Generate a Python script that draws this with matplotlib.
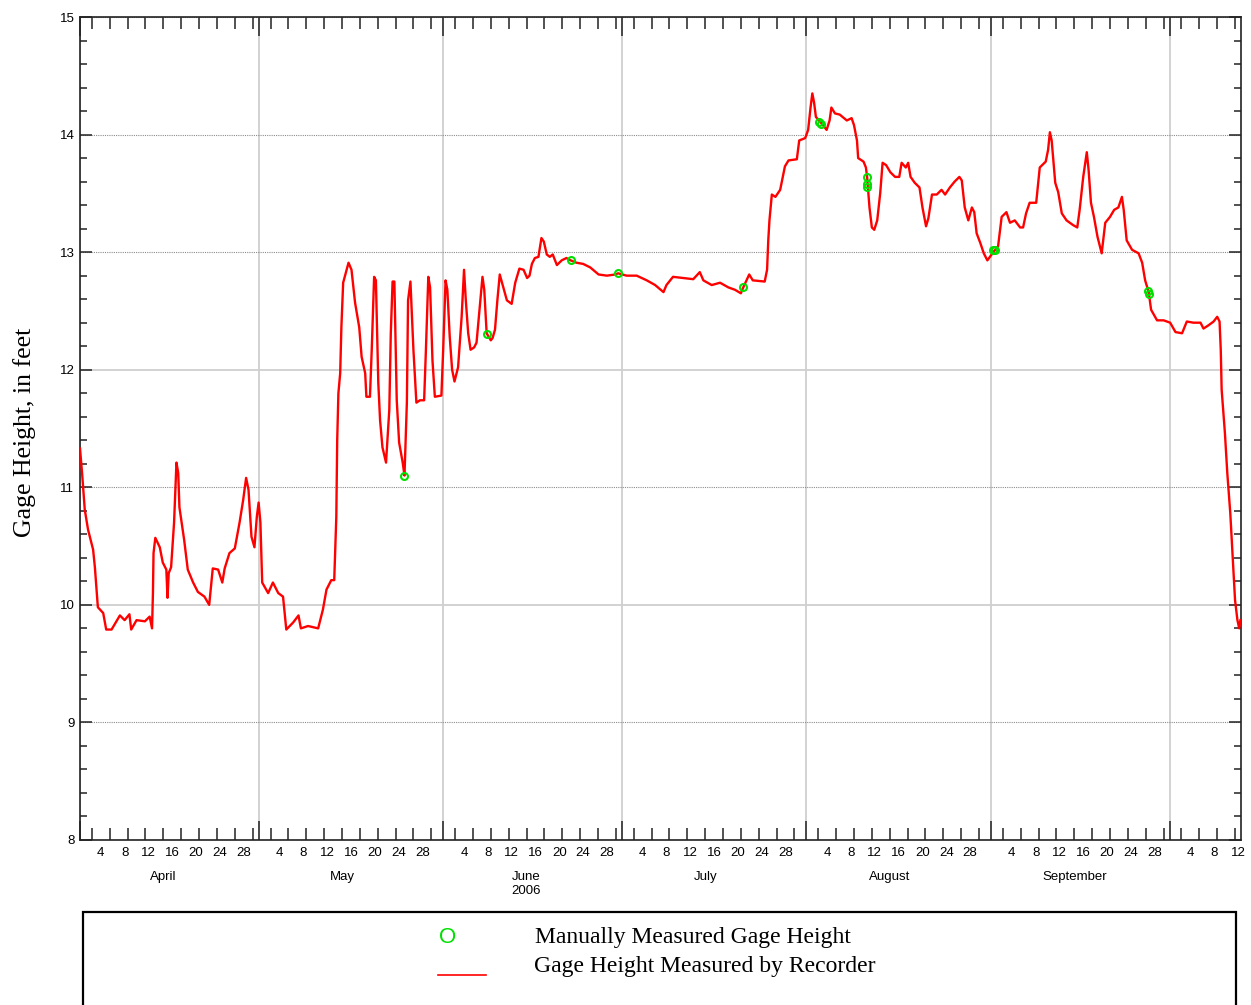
import numpy as np
import pandas as pd
import matplotlib
matplotlib.use('Agg')
import matplotlib.pyplot as plt
import matplotlib.dates as mdates
from matplotlib.patches import Rectangle
from matplotlib.lines import Line2D

plt.rcParams['font.family'] = ['Liberation Sans', 'DejaVu Sans']

# recorder trace: days since 2006-04-01 00:00 and gage height (ft)
day = [0.0, 0.35, 0.8, 1.35, 2.2, 2.5, 3.0, 3.9, 4.4, 5.3, 6.7, 7.5, 8.3, 8.6, 9.5, 10.9, 11.7, 12.1,
       12.25, 12.35, 12.65, 13.4, 13.9, 14.5, 14.7, 14.9, 15.3, 15.8, 16.2, 16.5, 16.7, 17.5, 18.1, 19.0,
       19.8, 20.9, 21.7, 22.3, 23.2, 23.9, 24.3, 25.1, 26.0, 26.8, 27.4, 27.9, 28.3, 28.8, 29.3, 29.7,
       30.0, 30.3, 30.6, 31.6, 32.4, 33.3, 34.1, 34.65, 35.8, 36.7, 37.1, 38.3, 40.0, 40.8, 41.4, 42.2,
       42.7, 43.05, 43.2, 43.4, 43.7, 43.9, 44.2, 45.1, 45.6, 46.2, 46.9, 47.3, 47.9, 48.1, 48.7, 49.0,
       49.4, 49.7, 50.1, 50.4, 50.8, 51.4, 51.95, 52.2, 52.5, 52.8, 53.2, 53.6, 54.2, 54.5, 54.9, 55.1,
       55.5, 56.0, 56.5, 57.1, 57.8, 58.1, 58.5, 58.8, 59.2, 59.6, 60.7, 61.0, 61.4, 61.7, 62.1, 62.5,
       62.9, 63.5, 64.1, 64.5, 64.8, 65.2, 65.6, 66.2, 66.6, 67.2, 67.6, 67.9, 68.3, 69.0, 69.3, 69.7,
       70.1, 70.5, 71.1, 71.7, 72.5, 73.1, 73.8, 74.5, 75.1, 75.5, 75.9, 76.4, 77.0, 77.5, 77.9, 78.4,
       78.9, 79.4, 80.1, 80.9, 81.7, 82.4, 83.4, 84.5, 85.7, 87.1, 88.5, 89.9, 90.4, 91.8, 93.5, 95.2,
       96.6, 98.0, 98.5, 99.6, 101.3, 103.0, 104.1, 104.7, 106.1, 107.5, 108.9, 110.0, 111.0, 111.4,
       112.4, 113.0, 115.0, 115.4, 115.6, 115.8, 116.2, 116.8, 117.6, 118.4, 119.0, 120.4, 120.8, 121.8,
       122.3, 122.7, 123.0, 123.3, 123.6, 124.3, 125.4, 125.9, 126.2, 126.8, 127.6, 128.8, 129.6, 130.0,
       130.5, 130.7, 131.6, 132.0, 132.2, 132.6, 133.0, 133.4, 133.9, 134.4, 134.8, 135.4, 136.1, 136.9,
       137.6, 138.0, 138.7, 139.1, 139.5, 140.2, 141.0, 141.5, 142.1, 142.5, 143.1, 143.9, 144.7, 145.3,
       146.1, 146.9, 147.7, 148.1, 148.6, 149.2, 149.8, 150.2, 150.6, 151.2, 151.8, 152.4, 153.4, 154.2,
       154.8, 155.6, 156.2, 157.0, 157.9, 158.4, 158.9, 159.5, 160.6, 161.2, 162.2, 162.6, 162.9, 163.2,
       163.8, 164.3, 164.9, 165.7, 166.8, 167.5, 167.9, 168.5, 169.1, 169.4, 169.8, 170.3, 170.9, 171.6,
       172.2, 173.0, 173.7, 174.4, 175.0, 175.3, 175.8, 176.7, 177.8, 178.4, 178.9, 179.5, 179.9, 180.9,
       182.0, 183.1, 184.0, 185.1, 185.9, 187.0, 188.2, 188.7, 189.6, 190.4, 191.0, 191.4, 191.6, 191.75,
       192.3, 192.7, 193.2, 193.6, 194.0, 194.4, 194.7, 194.9]
stage = [11.33, 11.12, 10.81, 10.64, 10.47, 10.32, 9.98, 9.93, 9.79, 9.79, 9.91, 9.87, 9.92, 9.79, 9.87,
         9.86, 9.90, 9.80, 10.10, 10.44, 10.57, 10.49, 10.36, 10.30, 10.06, 10.27, 10.32, 10.70, 11.21,
         11.12, 10.83, 10.55, 10.30, 10.19, 10.11, 10.07, 10.00, 10.31, 10.30, 10.19, 10.31, 10.44, 10.48,
         10.70, 10.89, 11.08, 10.98, 10.58, 10.49, 10.75, 10.87, 10.70, 10.19, 10.10, 10.19, 10.10, 10.07,
         9.79, 9.85, 9.91, 9.80, 9.82, 9.80, 9.96, 10.13, 10.21, 10.21, 10.75, 11.40, 11.80, 11.97, 12.36,
         12.74, 12.91, 12.85, 12.57, 12.36, 12.11, 11.97, 11.77, 11.77, 12.17, 12.79, 12.76, 11.89, 11.57,
         11.34, 11.21, 11.66, 12.31, 12.75, 12.75, 11.74, 11.38, 11.21, 11.10, 11.72, 12.59, 12.75, 12.17,
         11.72, 11.74, 11.74, 12.17, 12.79, 12.70, 12.08, 11.77, 11.78, 12.17, 12.76, 12.68, 12.28, 12.00,
         11.90, 12.02, 12.45, 12.85, 12.59, 12.31, 12.17, 12.19, 12.23, 12.57, 12.79, 12.68, 12.31, 12.25,
         12.27, 12.34, 12.59, 12.81, 12.70, 12.59, 12.56, 12.74, 12.86, 12.85, 12.78, 12.80, 12.90, 12.95,
         12.96, 13.12, 13.09, 12.98, 12.96, 12.98, 12.89, 12.93, 12.95, 12.93, 12.91, 12.90, 12.87, 12.81,
         12.80, 12.81, 12.82, 12.80, 12.80, 12.76, 12.72, 12.66, 12.72, 12.79, 12.78, 12.77, 12.83, 12.76,
         12.72, 12.74, 12.70, 12.68, 12.65, 12.70, 12.81, 12.76, 12.75, 12.85, 13.10, 13.27, 13.49, 13.47,
         13.53, 13.73, 13.78, 13.79, 13.95, 13.97, 14.04, 14.23, 14.35, 14.27, 14.15, 14.11, 14.04, 14.12,
         14.23, 14.18, 14.17, 14.12, 14.14, 14.08, 13.95, 13.80, 13.77, 13.72, 13.64, 13.38, 13.21, 13.19,
         13.27, 13.50, 13.76, 13.74, 13.68, 13.64, 13.64, 13.76, 13.72, 13.76, 13.64, 13.59, 13.55, 13.38,
         13.22, 13.29, 13.49, 13.49, 13.53, 13.49, 13.55, 13.60, 13.64, 13.61, 13.38, 13.27, 13.38, 13.34,
         13.16, 13.08, 12.99, 12.93, 13.00, 13.05, 13.30, 13.34, 13.25, 13.27, 13.21, 13.21, 13.33, 13.42,
         13.42, 13.72, 13.77, 13.87, 14.02, 13.95, 13.59, 13.51, 13.33, 13.27, 13.23, 13.21, 13.36, 13.64,
         13.85, 13.70, 13.42, 13.30, 13.13, 12.99, 13.25, 13.30, 13.36, 13.38, 13.47, 13.36, 13.10, 13.02,
         12.99, 12.91, 12.76, 12.66, 12.51, 12.42, 12.42, 12.40, 12.32, 12.31, 12.41, 12.40, 12.40, 12.35,
         12.38, 12.41, 12.45, 12.41, 12.17, 11.83, 11.46, 11.12, 10.78, 10.41, 10.04, 9.87, 9.80, 9.87]

# manual measurements
manual_day = [54.45, 68.4, 82.4, 90.4, 111.4, 124.1, 124.5, 132.2, 132.2, 132.2, 153.3, 153.6, 179.4, 179.6]
manual_stage = [11.10, 12.30, 12.93, 12.82, 12.70, 14.11, 14.09, 13.64, 13.58, 13.55, 13.02, 13.02, 12.67, 12.64]

day_labels = ['4', '8', '12', '16', '20', '24', '28']
month_names = ['April', 'May', 'June\n2006', 'July', 'August', 'September']

start = pd.Timestamp('2006-04-01')
t = (start + pd.to_timedelta(day, unit='D')).to_numpy()
tm = (start + pd.to_timedelta(manual_day, unit='D')).to_numpy()

fig = plt.figure(figsize=(12.51, 10.05), dpi=100)
ax = fig.add_axes([80 / 1251, 1 - 840 / 1005, 1161 / 1251, 823 / 1005])

ax.plot(t, stage, color='#ff0000', lw=1.7, zorder=3)
ax.plot(tm, manual_stage, ls='none', marker='o', ms=5, mfc='none', mec='#00e000', mew=1.5, zorder=4)

ax.set_xlim(pd.Timestamp('2006-04-01'), pd.Timestamp('2006-10-13'))
ax.set_ylim(8, 15)

# x ticks: month boundaries (long) and every 3rd day (short), top and bottom
ax.xaxis.set_major_locator(mdates.MonthLocator())
ax.xaxis.set_minor_locator(mdates.DayLocator(bymonthday=range(3, 31, 3)))
ax.xaxis.set_major_formatter(plt.NullFormatter())
ax.tick_params(axis='x', which='major', direction='in', length=14, width=1.1, top=True, color='#222222')
ax.tick_params(axis='x', which='minor', direction='in', length=8.5, width=1.1, top=True, color='#222222')

ax.set_yticks(range(8, 16))
ax.set_yticks(np.arange(8, 15.01, 0.2), minor=True)
ax.tick_params(axis='y', which='major', direction='in', length=8.5, width=1.1, right=True,
               labelsize=9.5, pad=4, color='#222222')
ax.tick_params(axis='y', which='minor', direction='in', length=5, width=1.1, right=True, color='#222222')

for s in ax.spines.values():
    s.set_linewidth(1.2)
    s.set_color('#222222')

# day-of-month labels at noon of days 4, 8, ... 28
lab_pos, lab_txt = [], []
for m in range(4, 11):
    for d in day_labels:
        if m == 10 and int(d) > 12:
            continue
        lab_pos.append(mdates.date2num(pd.Timestamp(2006, m, int(d), 12)))
        lab_txt.append(d)
sec = ax.secondary_xaxis('bottom')
sec.set_xticks(lab_pos, lab_txt)
sec.tick_params(length=0, pad=5, labelsize=9.5)
sec.spines['bottom'].set_visible(False)

mon_pos = [mdates.date2num(pd.Timestamp(2006, m, 15)) for m in range(4, 10)]
sec2 = ax.secondary_xaxis('bottom')
sec2.set_xticks(mon_pos, month_names)
sec2.tick_params(length=0, pad=22, labelsize=9.5)
sec2.spines['bottom'].set_visible(False)
for lbl in sec2.get_xticklabels():
    lbl.set_linespacing(1.25)

# grid
ax.set_axisbelow(True)
ax.grid(True, which='major')
dotted = dict(color='#8c8c8c', ls=(0, (1, 1)), lw=0.8)
solid = dict(color='#cfcfcf', ls='-', lw=1.3)
for val, gl in zip(range(8, 16), ax.get_ygridlines()):
    gl.set(**(solid if val in (10, 12) else dotted))
for gl in ax.get_xgridlines():
    mth = mdates.num2date(gl.get_xdata()[0]).month
    gl.set(**(dotted if mth in (7, 9) else solid))

fig.text(25 / 1251, 1 - 432 / 1005, 'Gage Height, in feet', rotation=90, ha='center', va='center',
         fontsize=18.5, family='Liberation Serif')

# legend box
fig.patches.append(Rectangle((83 / 1251, -0.05), 1153 / 1251, (1005 - 912) / 1005 + 0.05,
                             transform=fig.transFigure, fill=False, ec='black', lw=1.6, clip_on=False))
fig.text(448 / 1251, 1 - 937 / 1005, 'O', color='#00e000', ha='center', va='center', fontsize=16)
fig.text(535 / 1251, 1 - 937 / 1005, 'Manually Measured Gage Height', ha='left', va='center',
         fontsize=17, family='Liberation Serif')
fig.lines.append(Line2D([438 / 1251, 486 / 1251], [1 - 975 / 1005] * 2, transform=fig.transFigure,
                        color='#ff0000', lw=1.2))
fig.text(534 / 1251, 1 - 966 / 1005, 'Gage Height Measured by Recorder', ha='left', va='center',
         fontsize=17, family='Liberation Serif')

fig.savefig('out.png', dpi=100)
